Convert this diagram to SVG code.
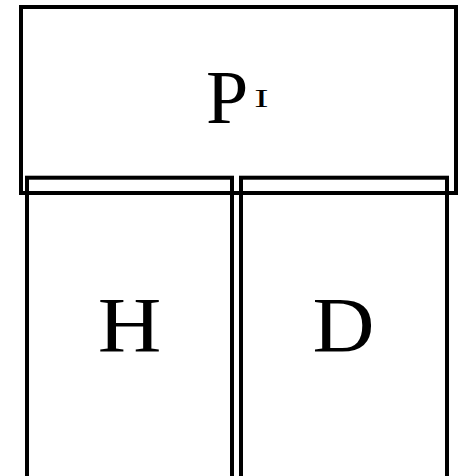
<svg xmlns="http://www.w3.org/2000/svg" width="464" height="476" viewBox="0 0 464 476">
<style>
.box{fill:none;stroke:#000;stroke-width:4}
.lbl{font-family:"Liberation Serif","Times New Roman",serif;fill:#000}
</style>
<rect width="464" height="476" fill="#fff"/>
<g id="P1">
<rect class="box" x="21" y="7" width="435" height="186"/>
<text class="lbl" x="206" y="123" font-size="76">P</text>
<text class="lbl" transform="translate(261.5,107.3) scale(1.65,1)" x="0" y="0" font-size="26" text-anchor="middle">I</text>
</g>
<g id="H">
<rect class="box" x="27" y="177.7" width="205" height="320"/>
<text class="lbl" transform="translate(129.5,351) scale(1.13,1)" x="0" y="0" font-size="78" text-anchor="middle">H</text>
</g>
<g id="D">
<rect class="box" x="241" y="177.7" width="206" height="320"/>
<text class="lbl" transform="translate(343.5,351) scale(1.1,1)" x="0" y="0" font-size="78" text-anchor="middle">D</text>
</g>
<g id="connectors"></g>
</svg>
